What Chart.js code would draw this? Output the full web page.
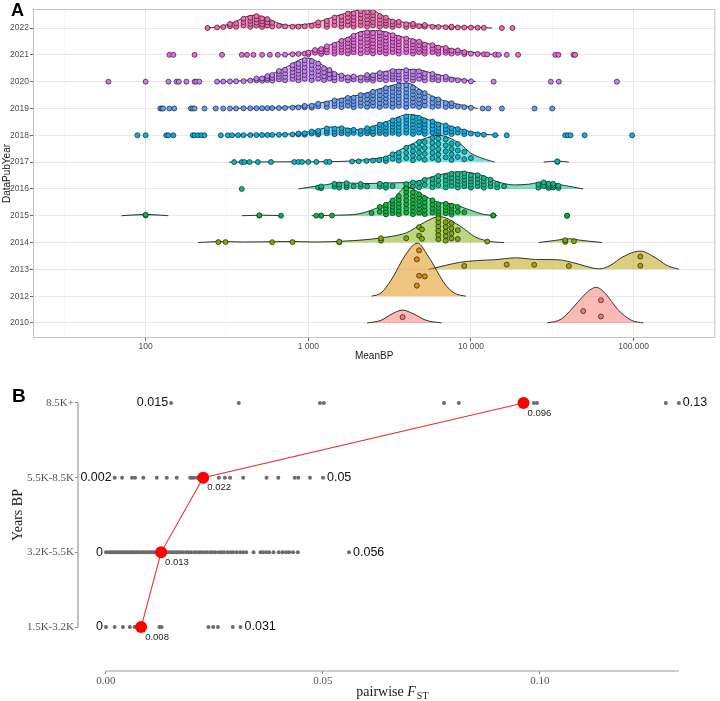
<!DOCTYPE html>
<html>
<head>
<meta charset="utf-8">
<script src="https://cdn.jsdelivr.net/npm/chart.js@4.4.1/dist/chart.umd.min.js"></script>
<style>
html, body { margin: 0; padding: 0; background: #fff; }
#wrap { position: relative; width: 720px; height: 701px; }
canvas { position: absolute; left: 0; }
#chartA { top: 0; }
#chartB { top: 365px; }
</style>
</head>
<body>
<div id="wrap">
  <canvas id="chartA" width="720" height="365"></canvas>
  <canvas id="chartB" width="720" height="336"></canvas>
</div>
<script>
// ---------- Panel A data ----------
const years = ["2010", "2012", "2013", "2014", "2015", "2016", "2017", "2018", "2019", "2020", "2021", "2022"];
const xMajor = [100, 1000, 10000, 100000];
const xMajorLabels = ["100", "1 000", "10 000", "100 000"];
const xMinor = [31.6, 316, 3162, 31623];

// density ridges: segments of [MeanBP, height in rows]
const ridge2010 = [[[2300, 0], [2800, 0.1], [3300, 0.35], [3800, 0.48], [4400, 0.35], [5300, 0.1], [6600, 0]],
  [[29500, 0], [36000, 0.15], [45000, 0.75], [53000, 1.2], [59000, 1.33], [67000, 1.1], [80000, 0.5], [97000, 0.1], [115000, 0]]];
const ridge2012 = [[[2450, 0], [2800, 0.12], [3230, 0.6], [4000, 1.58], [4680, 1.98], [5500, 1.46], [7000, 0.41], [8000, 0.1], [9300, 0]]];
const ridge2013 = [[[5500, 0], [7000, 0.15], [8500, 0.26], [11000, 0.33], [14000, 0.36], [19000, 0.43], [25000, 0.37], [34000, 0.36],
  [45000, 0.21], [56000, 0.05], [62000, 0.02], [72000, 0.15], [85000, 0.45], [110000, 0.68], [135000, 0.45], [160000, 0.15], [190000, 0]]];
const ridge2014 = [[[210, 0], [260, 0.03], [290, 0.04], [400, 0.02], [600, 0.03], [800, 0.04], [1100, 0.02], [1600, 0.05], [2200, 0.1],
  [3000, 0.2], [4000, 0.36], [5200, 0.76], [6400, 0.97], [8500, 0.63], [10700, 0.2], [13500, 0.03], [16000, 0]],
  [[26000, 0], [33000, 0.08], [40000, 0.14], [48000, 0.08], [64000, 0]]];
const ridge2015 = [[[71, 0], [100, 0.05], [138, 0]], [[390, 0], [520, 0.02], [690, 0]],
  [[1050, 0], [1500, 0.02], [2000, 0.06], [2400, 0.19], [3300, 0.6], [4000, 1.07], [5200, 0.74], [6300, 0.5], [7500, 0.45],
  [9800, 0.22], [12000, 0.05], [14500, 0]]];
const ridge2016 = [[[870, 0], [1000, 0.06], [1300, 0.16], [1550, 0.24], [2200, 0.2], [3000, 0.22], [4500, 0.27], [6300, 0.52],
  [8500, 0.64], [11500, 0.52], [14500, 0.27], [18500, 0.15], [23000, 0.18], [28000, 0.27], [36000, 0.15], [49000, 0]]];
const ridge2017 = [[[325, 0], [800, 0.01], [1500, 0.02], [2000, 0.06], [2700, 0.15], [3000, 0.2], [4000, 0.57], [5200, 0.88],
  [6300, 1.0], [8500, 0.7], [10000, 0.33], [12300, 0.1], [14000, 0]], [[28000, 0], [34000, 0.04], [40000, 0]]];
const ridge2018 = [[[320, 0], [600, 0.03], [900, 0.08], [1100, 0.18], [1400, 0.31], [1700, 0.27], [2000, 0.21], [2500, 0.33],
  [3000, 0.5], [4200, 0.78], [5700, 0.55], [8400, 0.25], [11500, 0.06], [14800, 0]]];
const ridge2019 = [[[320, 0], [700, 0.04], [1000, 0.12], [1400, 0.3], [2200, 0.55], [3000, 0.8], [4000, 0.95], [5200, 0.6],
  [6300, 0.36], [8000, 0.18], [9300, 0.1], [11000, 0]]];
const ridge2020 = [[[275, 0], [400, 0.04], [550, 0.2], [720, 0.52], [980, 0.88], [1050, 0.85], [1300, 0.52], [1550, 0.26],
  [2000, 0.2], [2800, 0.35], [3600, 0.45], [4500, 0.45], [6300, 0.26], [8500, 0.1], [10700, 0]]];
const ridge2021 = [[[680, 0], [1000, 0.12], [1400, 0.4], [1800, 0.68], [2100, 0.86], [2600, 0.9], [3000, 0.85], [3600, 0.7],
  [4600, 0.55], [5200, 0.45], [8000, 0.2], [10000, 0.1], [13500, 0.02], [15500, 0]]];
const ridge2022 = [[[240, 0], [300, 0.08], [360, 0.25], [420, 0.43], [470, 0.48], [540, 0.4], [640, 0.2], [760, 0.1], [900, 0.12],
  [1100, 0.2], [1300, 0.33], [1700, 0.55], [2100, 0.67], [2400, 0.68], [2800, 0.5], [3200, 0.32], [4000, 0.2], [5500, 0.11],
  [8000, 0.05], [11000, 0.03], [13500, 0]]];

// samples: [MeanBP, number of samples near that value]
const pts2010 = [[3800, 1], [49000, 1], [63000, 2]];
const pts2012 = [[4650, 2], [4800, 2], [5200, 1]];
const pts2013 = [[9100, 1], [16600, 1], [24500, 1], [40000, 1], [110000, 2]];
const pts2014 = [[280, 1], [310, 1], [600, 1], [800, 1], [1550, 2], [2800, 2], [4000, 1], [4800, 2], [5000, 2], [6300, 6],
  [7000, 5], [7600, 4], [8300, 2], [12600, 1], [38000, 2], [43000, 1]];
const pts2015 = [[100, 2], [500, 2], [680, 1], [1120, 1], [1200, 2], [1400, 1], [2450, 1], [2750, 2], [3000, 4], [3300, 5],
  [3600, 6], [4000, 7], [4400, 7], [4800, 6], [5200, 5], [5800, 4], [6300, 4], [7000, 4], [7600, 4], [8300, 2], [9100, 1],
  [13700, 2], [39000, 2]];
const pts2016 = [[390, 1], [1150, 1], [1200, 2], [1450, 2], [1550, 2], [1720, 3], [1900, 1], [2100, 2], [2300, 1], [2750, 2],
  [3000, 2], [3300, 1], [4000, 2], [4400, 2], [4800, 2], [5200, 2], [5800, 3], [6300, 3], [7000, 4], [7600, 4], [8300, 5],
  [9100, 5], [10000, 5], [11000, 4], [12000, 4], [13200, 3], [14500, 2], [16000, 1], [26000, 2], [28000, 2], [30000, 3],
  [32000, 3], [34500, 2]];
const pts2017 = [[350, 1], [390, 1], [405, 1], [435, 1], [490, 1], [590, 1], [820, 1], [870, 1], [915, 1], [1000, 1], [1120, 1],
  [1290, 1], [1350, 1], [1860, 1], [2040, 1], [2280, 1], [2500, 1], [2730, 1], [3000, 2], [3300, 2], [3600, 3], [4000, 3],
  [4400, 4], [4800, 4], [5200, 4], [5800, 5], [6300, 5], [7000, 4], [7600, 4], [8300, 3], [9100, 2], [10000, 1], [34000, 2]];
const pts2018 = [[89, 1], [100, 1], [134, 1], [138, 1], [148, 1], [195, 1], [200, 1], [210, 1], [220, 1], [230, 1], [290, 1],
  [320, 1], [340, 1], [370, 1], [400, 1], [440, 1], [480, 1], [520, 1], [560, 1], [600, 1], [660, 1], [720, 1], [800, 1],
  [870, 2], [950, 2], [1050, 2], [1150, 3], [1300, 3], [1450, 3], [1600, 3], [1750, 2], [1900, 2], [2100, 2], [2300, 3],
  [2500, 3], [2750, 4], [3000, 4], [3300, 5], [3600, 5], [4000, 6], [4400, 6], [4800, 5], [5200, 5], [5800, 4], [6300, 4],
  [7000, 3], [7600, 3], [8300, 2], [9100, 2], [10000, 1], [11000, 1], [12000, 1], [14100, 1], [16600, 1], [38000, 1],
  [39500, 1], [41000, 1], [50000, 1], [98000, 1]];
const pts2019 = [[123, 1], [126, 1], [128, 1], [140, 1], [150, 1], [190, 1], [195, 1], [200, 1], [230, 1], [270, 1], [300, 1],
  [330, 1], [360, 1], [400, 1], [440, 1], [480, 1], [520, 1], [560, 1], [600, 1], [660, 1], [720, 1], [800, 1], [870, 1],
  [950, 2], [1050, 2], [1150, 2], [1300, 2], [1450, 3], [1600, 3], [1750, 3], [1900, 4], [2100, 4], [2300, 4], [2500, 5],
  [2750, 5], [3000, 6], [3300, 6], [3600, 7], [4000, 7], [4400, 6], [4800, 5], [5200, 4], [5800, 3], [6300, 3], [7000, 2],
  [7600, 2], [8300, 1], [9100, 1], [10000, 1], [11800, 1], [12800, 1], [15500, 1], [24600, 1], [31600, 1]];
const pts2020 = [[59, 1], [100, 1], [138, 1], [155, 1], [160, 1], [178, 1], [200, 1], [205, 1], [214, 1], [275, 1], [300, 1],
  [330, 1], [360, 1], [400, 1], [440, 1], [480, 2], [520, 2], [560, 3], [600, 3], [660, 4], [720, 4], [800, 5], [870, 6],
  [950, 6], [1050, 6], [1150, 5], [1250, 4], [1350, 3], [1450, 3], [1600, 2], [1750, 2], [1900, 2], [2100, 2], [2300, 3],
  [2500, 3], [2750, 3], [3000, 3], [3300, 4], [3600, 4], [4000, 4], [4400, 4], [4800, 3], [5200, 3], [5800, 3], [6300, 2],
  [7000, 2], [7600, 1], [8300, 1], [9100, 1], [10000, 1], [13800, 1], [31000, 1], [34700, 1], [79000, 1]];
const pts2021 = [[140, 1], [148, 1], [200, 1], [295, 1], [390, 1], [420, 1], [460, 1], [520, 1], [580, 1], [650, 1], [720, 1],
  [800, 1], [870, 1], [950, 1], [1000, 2], [1100, 2], [1200, 3], [1300, 3], [1450, 4], [1600, 5], [1750, 5], [1900, 6],
  [2100, 6], [2300, 7], [2500, 7], [2750, 7], [3000, 7], [3300, 6], [3600, 6], [4000, 5], [4400, 5], [4800, 4], [5200, 4],
  [5800, 3], [6300, 3], [7000, 3], [7600, 2], [8300, 2], [9100, 2], [10000, 1], [11000, 1], [12000, 1], [12600, 1],
  [14100, 1], [14800, 1], [16600, 1], [19500, 1], [33000, 1], [34500, 1], [42700, 1], [43700, 1]];
const pts2022 = [[240, 1], [275, 1], [300, 1], [330, 2], [360, 2], [400, 3], [440, 4], [480, 4], [520, 4], [560, 3], [600, 2],
  [660, 1], [720, 1], [800, 1], [870, 1], [950, 1], [1050, 1], [1150, 2], [1300, 3], [1450, 3], [1600, 4], [1750, 4],
  [1900, 5], [2100, 5], [2300, 5], [2500, 5], [2750, 4], [3000, 4], [3300, 3], [3600, 2], [4000, 2], [4400, 2], [4800, 1],
  [5200, 2], [5800, 1], [6300, 1], [7000, 1], [7600, 2], [8300, 1], [9100, 1], [10000, 1], [11000, 1], [12000, 1],
  [15500, 1], [18000, 1]];

const ridges = [ridge2010, ridge2012, ridge2013, ridge2014, ridge2015, ridge2016, ridge2017, ridge2018, ridge2019, ridge2020, ridge2021, ridge2022];
const samples = [pts2010, pts2012, pts2013, pts2014, pts2015, pts2016, pts2017, pts2018, pts2019, pts2020, pts2021, pts2022];

// ---------- Panel B data ----------
const fstGroups = ["1.5K-3.2K", "3.2K-5.5K", "5.5K-8.5K", "8.5K+"];
const fst15to32 = [0, 0.002, 0.0039, 0.0055, 0.0066, 0.0123, 0.0128, 0.0236, 0.0247, 0.0258, 0.0292, 0.031];
const fst32to55 = [0, 0.0006, 0.0011, 0.0015, 0.002, 0.0024, 0.0029, 0.0033, 0.0038, 0.0042, 0.0047, 0.0051, 0.0056, 0.006,
  0.0064, 0.0069, 0.0073, 0.0078, 0.0083, 0.0087, 0.0092, 0.0097, 0.0101, 0.0106, 0.011, 0.0115, 0.012, 0.0124, 0.0133,
  0.0138, 0.0142, 0.0147, 0.0152, 0.0157, 0.0162, 0.0167, 0.0172, 0.0178, 0.0185, 0.019, 0.0196, 0.0203, 0.0208, 0.0215,
  0.022, 0.0227, 0.0233, 0.024, 0.0246, 0.0252, 0.026, 0.0266, 0.0272, 0.028, 0.0287, 0.0293, 0.0301, 0.0309, 0.0316,
  0.0323, 0.034, 0.0356, 0.0362, 0.0369, 0.0376, 0.0386, 0.0398, 0.0407, 0.0415, 0.0422, 0.0431, 0.0442, 0.056];
const fst55to85 = [0.002, 0.0037, 0.006, 0.0067, 0.0086, 0.0117, 0.014, 0.0163, 0.0194, 0.0198, 0.0203, 0.021, 0.0215, 0.026,
  0.0274, 0.0286, 0.0316, 0.037, 0.0397, 0.0435, 0.0443, 0.047, 0.05];
const fst85plus = [0.015, 0.0306, 0.0493, 0.0502, 0.0779, 0.0813, 0.0986, 0.0993, 0.129, 0.132];
const fstMeans = [0.0081, 0.0127, 0.0224, 0.0962];
const fstTicks = [0, 0.05, 0.1];
const fstTickLabels = ["0.00", "0.05", "0.10"];
const fstRows = [fst15to32, fst32to55, fst55to85, fst85plus];

// ---------- helpers ----------
const rowColors = ["#F8766D", "#DE8C00", "#B79F00", "#7CAE00", "#00BA38", "#00C08B", "#00BFC4", "#00B4F0", "#619CFF", "#C77CFF", "#F564E3", "#FF64B0"];
const sans = "'Liberation Sans', Arial, sans-serif";
const serif = "'Liberation Serif', 'Times New Roman', serif";

function withAlpha(hex, a) {
  const n = parseInt(hex.slice(1), 16);
  return `rgba(${(n >> 16) & 255},${(n >> 8) & 255},${n & 255},${a})`;
}

// ridge height at a value, used only to spread the sample dots inside the ridge
function ridgeHeight(segs, v) {
  const lv = Math.log10(v);
  for (const seg of segs) {
    for (let i = 0; i < seg.length - 1; i++) {
      const a = Math.log10(seg[i][0]), b = Math.log10(seg[i + 1][0]);
      if (lv >= a && lv <= b) {
        const t = (lv - a) / (b - a);
        return seg[i][1] + t * (seg[i + 1][1] - seg[i][1]);
      }
    }
  }
  return 0;
}

// ---------- Panel A ----------
const datasetsA = [];
years.forEach((yr, r) => {
  ridges[r].forEach(seg => {
    datasetsA.push({
      type: "scatter",
      showLine: true,
      data: seg.map(([x, h]) => ({ x: x, y: r + h })),
      fill: { value: r },
      backgroundColor: withAlpha(rowColors[r], 0.5),
      borderColor: "#1f1f1f",
      borderWidth: 0.9,
      pointRadius: 0,
      cubicInterpolationMode: "monotone",
      order: 2 * r + 1
    });
  });
  const dots = [];
  samples[r].forEach(([v, n], k) => {
    const h = ridgeHeight(ridges[r], v);
    const shift = k % 2 ? 0.3 : -0.1;
    for (let i = 0; i < n; i++) {
      const f = n === 1 ? 0.45 : Math.min(0.95, Math.max(0.05, (i + 0.5 + shift) / n));
      dots.push({ x: v, y: r + h * f });
    }
  });
  datasetsA.push({
    type: "scatter",
    data: dots,
    backgroundColor: rowColors[r],
    borderColor: "#1f1f1f",
    borderWidth: 0.7,
    pointRadius: 2.5,
    order: 2 * r
  });
});

const panelAExtras = {
  id: "panelAExtras",
  afterDraw(chart) {
    const { ctx, chartArea } = chart;
    ctx.save();
    ctx.strokeStyle = "#c4c4c4";
    ctx.lineWidth = 1;
    ctx.strokeRect(chartArea.left + 0.5, chartArea.top + 0.5, chartArea.right - chartArea.left - 1, chartArea.bottom - chartArea.top - 1);
    ctx.fillStyle = "#1a1a1a";
    ctx.font = "10px " + sans;
    ctx.textAlign = "center";
    ctx.textBaseline = "middle";
    ctx.fillText("MeanBP", (chartArea.left + chartArea.right) / 2, 356);
    ctx.save();
    ctx.translate(7, (chartArea.top + chartArea.bottom) / 2);
    ctx.rotate(-Math.PI / 2);
    ctx.fillText("DataPubYear", 0, 0);
    ctx.restore();
    ctx.font = "bold 18px " + sans;
    ctx.fillStyle = "#000";
    ctx.textAlign = "left";
    ctx.textBaseline = "alphabetic";
    ctx.fillText("A", 11, 16);
    ctx.restore();
  }
};

new Chart(document.getElementById("chartA"), {
  type: "scatter",
  data: { datasets: datasetsA },
  options: {
    responsive: false,
    animation: false,
    devicePixelRatio: 1,
    layout: { padding: { top: 9, right: 3, left: 0, bottom: 0 } },
    plugins: { legend: { display: false }, tooltip: { enabled: false } },
    scales: {
      x: {
        type: "logarithmic",
        min: 20.3,
        max: 318000,
        afterBuildTicks: s => { s.ticks = xMinor.concat(xMajor).sort((a, b) => a - b).map(v => ({ value: v })); },
        afterFit: s => { s.height = 27; },
        ticks: {
          autoSkip: false,
          maxRotation: 0,
          padding: 1,
          color: "#4d4d4d",
          font: { size: 8.5, family: sans },
          callback: v => { const i = xMajor.indexOf(v); return i >= 0 ? xMajorLabels[i] : ""; }
        },
        grid: {
          color: c => (xMajor.includes(c.tick && c.tick.value) ? "#e6e6e6" : "#f0f0f0"),
          lineWidth: c => (xMajor.includes(c.tick && c.tick.value) ? 0.9 : 0.5),
          tickColor: c => (xMajor.includes(c.tick && c.tick.value) ? "#555" : "rgba(0,0,0,0)"),
          tickLength: 3
        },
        border: { display: false }
      },
      y: {
        type: "linear",
        min: -0.56,
        max: 11.71,
        afterBuildTicks: s => { s.ticks = years.map((_, i) => ({ value: i })); },
        afterFit: s => { s.width = 33; },
        ticks: {
          padding: 1,
          color: "#4d4d4d",
          font: { size: 8.5, family: sans },
          callback: v => years[v]
        },
        grid: { color: "#e6e6e6", lineWidth: 0.9, tickColor: "#555", tickLength: 3 },
        border: { display: false }
      }
    }
  },
  plugins: [panelAExtras]
});

// ---------- Panel B ----------
const datasetsB = [];
fstRows.forEach((vals, r) => {
  datasetsB.push({
    type: "scatter",
    data: vals.map(v => ({ x: v, y: r })),
    backgroundColor: "#6b6b6b",
    borderWidth: 0,
    pointRadius: 2,
    order: 2
  });
});
datasetsB.push({
  type: "scatter",
  showLine: true,
  data: fstMeans.map((m, r) => ({ x: m, y: r })),
  borderColor: "#e8302a",
  borderWidth: 1.1,
  backgroundColor: "#ff0000",
  pointBackgroundColor: "#ff0000",
  pointBorderWidth: 0,
  pointRadius: 6,
  order: 1
});

const panelBExtras = {
  id: "panelBExtras",
  afterDatasetsDraw(chart) {
    const { ctx, chartArea, scales } = chart;
    const xs = scales.x, ys = scales.y;
    ctx.save();
    // axis lines
    const allMax = Math.max(...fstRows.map(v => Math.max(...v)));
    ctx.strokeStyle = "#9a9a9a";
    ctx.lineWidth = 1.2;
    ctx.beginPath();
    ctx.moveTo(chartArea.left, ys.getPixelForValue(0));
    ctx.lineTo(chartArea.left, ys.getPixelForValue(fstGroups.length - 1));
    ctx.moveTo(xs.getPixelForValue(0), chartArea.bottom);
    ctx.lineTo(xs.getPixelForValue(allMax), chartArea.bottom);
    ctx.stroke();
    // min / max labels
    ctx.fillStyle = "#111";
    ctx.font = "12.5px " + sans;
    ctx.textBaseline = "middle";
    fstRows.forEach((vals, r) => {
      const lo = Math.min(...vals), hi = Math.max(...vals);
      const py = ys.getPixelForValue(r);
      ctx.textAlign = "right";
      ctx.fillText(String(Number(lo.toPrecision(2))), xs.getPixelForValue(lo) - 3, py);
      ctx.textAlign = "left";
      ctx.fillText(String(Number(hi.toPrecision(2))), xs.getPixelForValue(hi) + 4, py);
    });
    // mean labels
    ctx.font = "9.5px " + sans;
    ctx.fillStyle = "#222";
    ctx.textAlign = "left";
    fstMeans.forEach((m, r) => {
      ctx.fillText(m.toFixed(3), xs.getPixelForValue(m) + 4, ys.getPixelForValue(r) + 10);
    });
    // titles
    ctx.fillStyle = "#1a1a1a";
    ctx.font = "14px " + serif;
    ctx.textAlign = "center";
    ctx.save();
    ctx.translate(18, 150);
    ctx.rotate(-Math.PI / 2);
    ctx.fillText("Years BP", 0, 0);
    ctx.restore();
    const cx = (xs.getPixelForValue(0) + xs.getPixelForValue(allMax)) / 2;
    ctx.textAlign = "left";
    ctx.textBaseline = "alphabetic";
    ctx.font = "14px " + serif;
    const w1 = ctx.measureText("pairwise ").width;
    ctx.font = "italic 14px " + serif;
    const w2 = ctx.measureText("F").width;
    ctx.font = "10px " + serif;
    const w3 = ctx.measureText("ST").width;
    let tx = cx - (w1 + w2 + w3 + 1) / 2;
    const base = 331;
    ctx.font = "14px " + serif;
    ctx.fillText("pairwise ", tx, base);
    tx += w1;
    ctx.font = "italic 14px " + serif;
    ctx.fillText("F", tx, base);
    tx += w2 + 1;
    ctx.font = "10px " + serif;
    ctx.fillText("ST", tx, base + 3);
    // panel letter
    ctx.font = "bold 19px " + sans;
    ctx.fillStyle = "#000";
    ctx.fillText("B", 12, 37);
    ctx.restore();
  }
};

new Chart(document.getElementById("chartB"), {
  type: "scatter",
  data: { datasets: datasetsB },
  options: {
    responsive: false,
    animation: false,
    devicePixelRatio: 1,
    layout: { padding: { top: 15, right: 20, left: 0, bottom: 0 } },
    plugins: { legend: { display: false }, tooltip: { enabled: false } },
    scales: {
      x: {
        type: "linear",
        min: -0.00645,
        max: 0.13687,
        afterBuildTicks: s => { s.ticks = fstTicks.map(v => ({ value: v })); },
        afterFit: s => { s.height = 30; },
        ticks: {
          padding: 1,
          color: "#555",
          font: { size: 11, family: serif },
          callback: v => fstTickLabels[fstTicks.indexOf(v)]
        },
        grid: { drawOnChartArea: false, tickColor: "#8a8a8a", tickLength: 3 },
        border: { display: false }
      },
      y: {
        type: "linear",
        min: -0.589,
        max: 3.308,
        afterBuildTicks: s => { s.ticks = fstGroups.map((_, i) => ({ value: i })); },
        afterFit: s => { s.width = 78; },
        ticks: {
          padding: 1,
          color: "#555",
          font: { size: 11, family: serif },
          callback: v => fstGroups[v]
        },
        grid: { drawOnChartArea: false, tickColor: "#8a8a8a", tickLength: 3 },
        border: { display: false }
      }
    }
  },
  plugins: [panelBExtras]
});
</script>
</body>
</html>
